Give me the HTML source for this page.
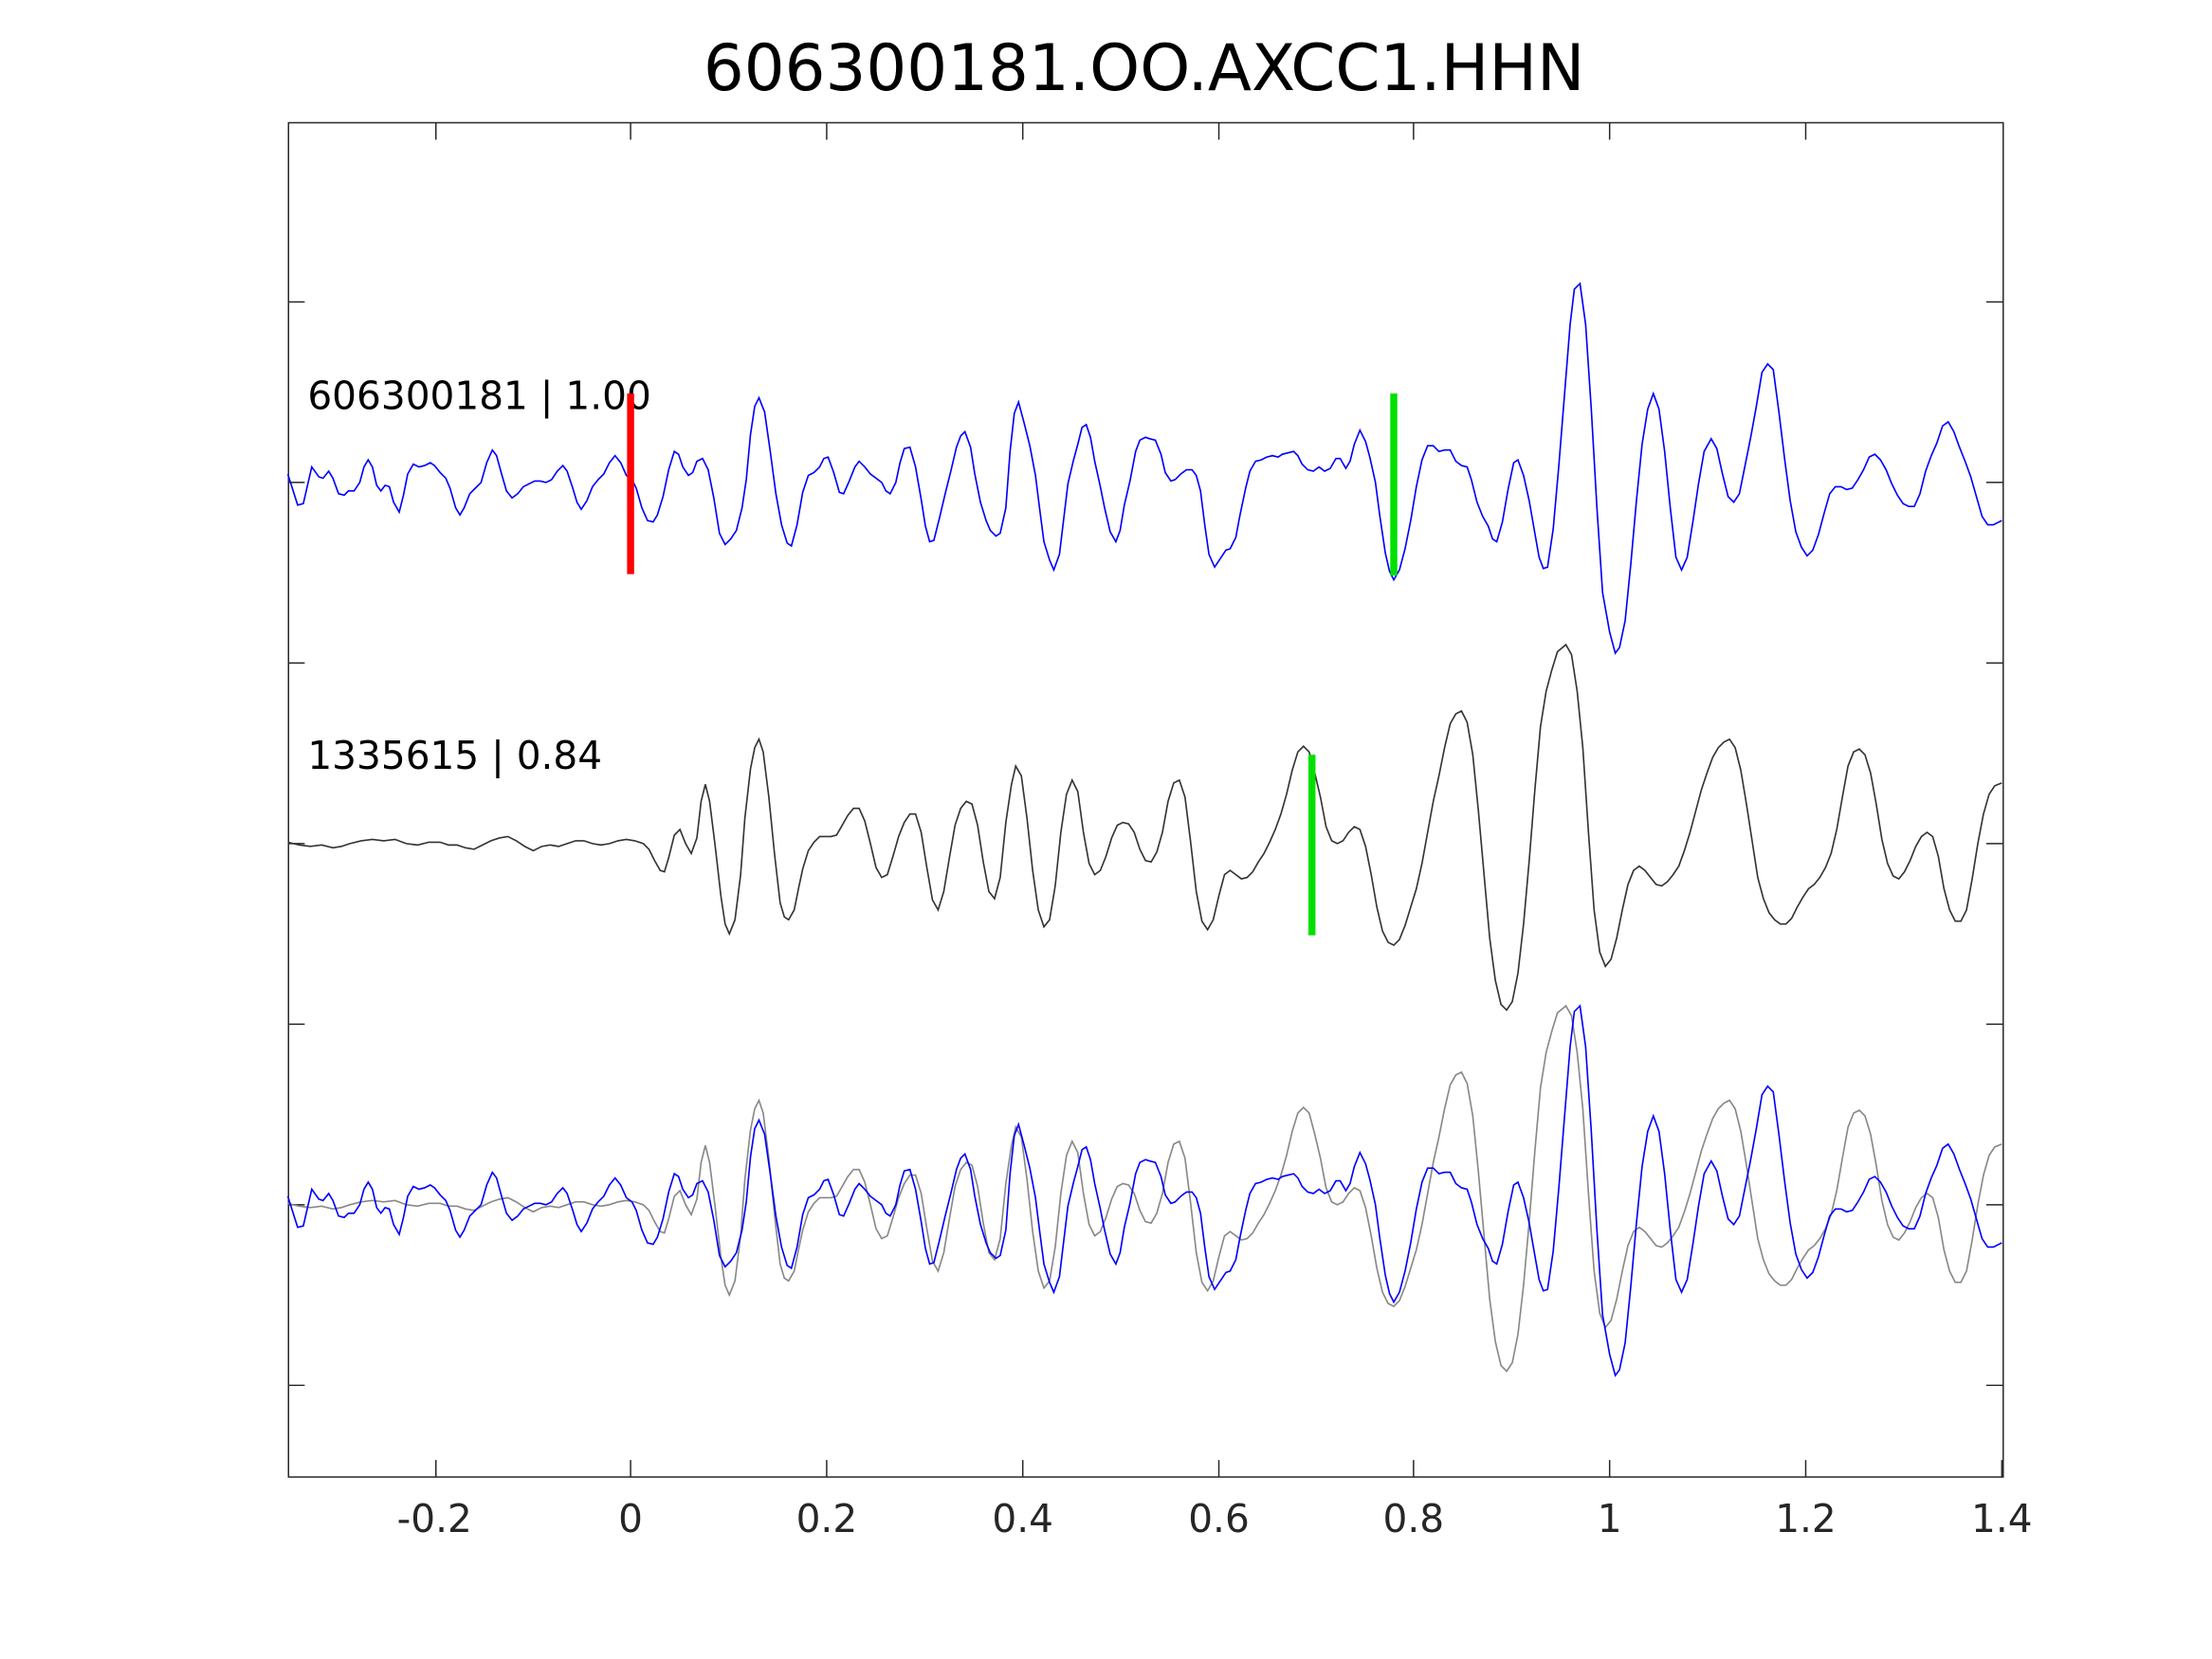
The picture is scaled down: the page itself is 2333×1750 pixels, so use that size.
<!DOCTYPE html>
<html><head><meta charset="utf-8"><style>html,body{margin:0;padding:0;background:#fff}svg{display:block}</style></head>
<body>
<svg width="2333" height="1750" viewBox="0 0 1568 1176" preserveAspectRatio="none" xmlns="http://www.w3.org/2000/svg" font-family="DejaVu Sans, Liberation Sans, sans-serif">
<rect width="1568" height="1176" fill="#fff"/>
<text x="811" y="64" font-size="45.3" text-anchor="middle" fill="#000">606300181.OO.AXCC1.HHN</text>
<defs>
<polyline id="b" fill="none" stroke="#0000ff" stroke-width="1.1" points="204,336 211,358 215,357 221,331 226,338 229,339 233,334 236,339 240,350 244,351 247,348 251,348 255,342 258,331 261,326 264,331 267,344 270,348 273,344 276,345 279,356 283,363 286,351 289,336 293,329 297,331 301,330 305,328 308,330 312,335 316,339 319,346 323,360 326,365 329,360 333,350 337,346 341,342 345,328 349,319 352,323 355,334 359,348 363,353 367,350 371,345 375,343 379,341 383,341 387,342 391,340 395,334 399,330 402,334 406,346 409,356 412,361 416,355 420,345 424,340 428,336 432,328 436,323 440,328 444,337 448,340 451,346 455,360 459,369 463,370 466,365 470,352 474,333 478,320 481,322 484,331 488,337 491,335 494,327 498,325 502,333 506,353 510,378 514,386 518,382 522,376 526,360 529,340 532,308 535,288 538,282 542,292 546,320 550,350 554,372 558,385 561,387 565,372 569,349 573,337 577,335 581,331 584,325 587,324 591,335 595,349 598,350 602,341 606,331 609,327 613,331 617,336 621,339 625,342 628,348 631,350 635,342 638,328 641,318 645,317 649,331 653,354 656,373 659,384 662,383 666,367 670,350 674,334 678,317 681,309 684,306 688,317 691,336 695,356 699,369 702,376 706,380 709,378 713,360 716,320 719,293 722,285 726,300 730,316 734,337 737,361 740,384 744,397 747,404 751,393 754,368 757,343 761,326 764,315 767,303 770,301 773,310 776,327 780,345 783,360 787,377 791,384 794,376 797,358 801,341 805,320 808,312 812,310 815,311 819,312 823,322 826,335 830,341 833,340 837,336 841,333 845,333 848,337 851,348 854,372 857,393 861,402 865,396 869,390 872,389 876,381 879,365 883,346 886,334 890,327 894,326 898,324 902,323 906,324 909,322 913,321 917,320 920,323 923,329 927,333 931,334 935,331 939,334 943,332 947,325 950,325 954,332 957,327 960,315 964,305 968,313 971,324 975,342 978,365 982,392 985,405 988,411 992,404 996,389 1000,369 1004,345 1008,326 1012,316 1016,316 1020,320 1024,319 1028,319 1032,327 1036,330 1040,331 1043,340 1047,356 1051,366 1055,373 1058,382 1061,384 1065,370 1069,347 1073,328 1076,326 1080,337 1084,355 1088,378 1091,395 1094,403 1097,402 1101,375 1105,330 1109,280 1113,230 1116,205 1120,201 1124,230 1128,290 1132,360 1136,420 1141,448 1145,463 1148,459 1152,440 1156,400 1160,355 1164,315 1168,290 1172,279 1176,290 1180,320 1184,360 1188,395 1192,404 1196,395 1200,370 1204,343 1208,320 1213,311 1217,318 1221,336 1225,352 1229,356 1233,350 1237,330 1241,310 1245,288 1249,264 1253,258 1257,262 1261,292 1265,325 1269,355 1273,377 1277,388 1281,394 1285,390 1289,379 1293,364 1297,350 1301,345 1305,345 1309,347 1313,346 1317,340 1321,333 1325,324 1329,322 1333,326 1337,333 1341,343 1345,351 1349,357 1353,359 1357,359 1361,350 1365,334 1369,323 1373,314 1377,302 1381,299 1385,306 1389,317 1393,327 1397,338 1401,352 1405,366 1409,372 1413,372 1419,369"/>
<polyline id="g" fill="none" stroke-width="1.1" points="204,597 212,599 220,600 228,599 236,601 242,600 248,598 256,596 264,595 272,596 280,595 288,598 296,599 304,597 312,597 318,599 324,599 330,601 336,602 342,599 348,596 354,594 360,593 366,596 372,600 378,603 384,600 390,599 396,600 402,598 408,596 414,596 420,598 426,599 432,598 438,596 444,595 450,596 456,598 460,602 464,610 468,617 471,618 474,608 478,592 482,588 486,598 490,605 494,594 497,568 500,556 503,568 507,600 511,635 514,655 517,662 521,652 525,620 528,580 532,545 535,530 538,524 541,533 545,565 549,605 553,640 556,650 559,652 563,645 566,630 569,616 573,603 577,597 581,593 585,593 589,593 593,592 597,585 601,578 605,573 609,573 613,582 617,598 621,615 625,622 629,620 633,607 637,593 641,583 645,577 649,577 653,590 657,615 661,638 665,645 669,632 673,608 677,585 681,573 685,568 689,570 693,585 697,611 701,632 705,637 709,622 713,583 717,556 720,543 724,550 728,580 732,617 736,645 740,657 744,652 748,628 752,590 756,563 760,553 764,561 768,590 772,612 776,620 780,617 784,607 788,594 792,585 796,583 800,584 804,590 808,602 812,610 816,611 820,604 824,590 828,568 832,555 836,553 840,565 844,597 848,632 852,653 856,659 860,652 864,635 868,620 872,617 876,620 880,623 884,622 888,618 892,611 896,605 900,597 904,588 908,577 912,563 916,546 920,533 924,529 928,533 932,548 936,565 940,586 944,596 948,598 952,596 956,590 960,586 964,588 968,600 972,620 976,643 980,660 984,668 988,670 992,666 996,656 1000,643 1004,630 1008,612 1012,590 1016,568 1020,550 1024,530 1028,513 1032,506 1036,504 1040,512 1044,535 1048,575 1052,620 1056,665 1060,695 1064,712 1068,716 1072,710 1076,690 1080,655 1084,610 1088,560 1092,515 1096,490 1100,475 1104,462 1110,457 1114,464 1118,490 1122,530 1126,590 1130,645 1134,675 1138,685 1142,680 1146,665 1150,645 1154,627 1158,617 1162,614 1166,617 1170,622 1174,627 1178,628 1182,625 1186,620 1190,614 1194,603 1198,590 1202,575 1206,560 1210,548 1214,537 1218,530 1222,526 1226,524 1230,530 1234,546 1238,570 1242,596 1246,622 1250,637 1254,647 1258,652 1262,655 1266,655 1270,651 1274,643 1278,636 1282,630 1286,627 1290,622 1294,615 1298,605 1302,588 1306,565 1310,543 1314,533 1318,531 1322,535 1326,548 1330,570 1334,595 1338,612 1342,621 1346,623 1350,618 1354,610 1358,600 1362,593 1366,590 1370,593 1374,607 1378,630 1382,645 1386,653 1390,653 1394,645 1398,623 1402,598 1406,577 1410,563 1414,557 1419,555"/>
</defs>
<g stroke="#262626" stroke-width="1" fill="none">
<rect x="204.5" y="87" width="1215.5" height="960"/>
<path d="M309,1047v-12M447,1047v-12M586,1047v-12M725,1047v-12M864,1047v-12M1002,1047v-12M1141,1047v-12M1280,1047v-12M1419,1047v-12
M309,87v12M447,87v12M586,87v12M725,87v12M864,87v12M1002,87v12M1141,87v12M1280,87v12
M204,214h12M204,342h12M204,470h12M204,598h12M204,726h12M204,854h12M204,982h12
M1420,214h-12M1420,342h-12M1420,470h-12M1420,598h-12M1420,726h-12M1420,854h-12M1420,982h-12"/>
</g>
<g font-size="27.3" fill="#262626" text-anchor="middle">
<text x="308" y="1086">-0.2</text><text x="447" y="1086">0</text><text x="586" y="1086">0.2</text><text x="725" y="1086">0.4</text><text x="864" y="1086">0.6</text><text x="1002" y="1086">0.8</text><text x="1141" y="1086">1</text><text x="1280" y="1086">1.2</text><text x="1419" y="1086">1.4</text>
</g>
<use href="#g" stroke="#888" transform="translate(0,256)"/>
<use href="#b" transform="translate(0,512)"/>
<use href="#g" stroke="#333"/>
<use href="#b"/>
<g font-size="27.3" fill="#000">
<text x="218" y="290">606300181 | 1.00</text>
<text x="218" y="545">1335615 | 0.84</text>
</g>
<line x1="447" y1="279" x2="447" y2="407" stroke="#ff0000" stroke-width="5"/>
<line x1="988" y1="279" x2="988" y2="408" stroke="#00e000" stroke-width="5"/>
<line x1="930" y1="535" x2="930" y2="663" stroke="#00e000" stroke-width="5"/>
</svg>
</body></html>
